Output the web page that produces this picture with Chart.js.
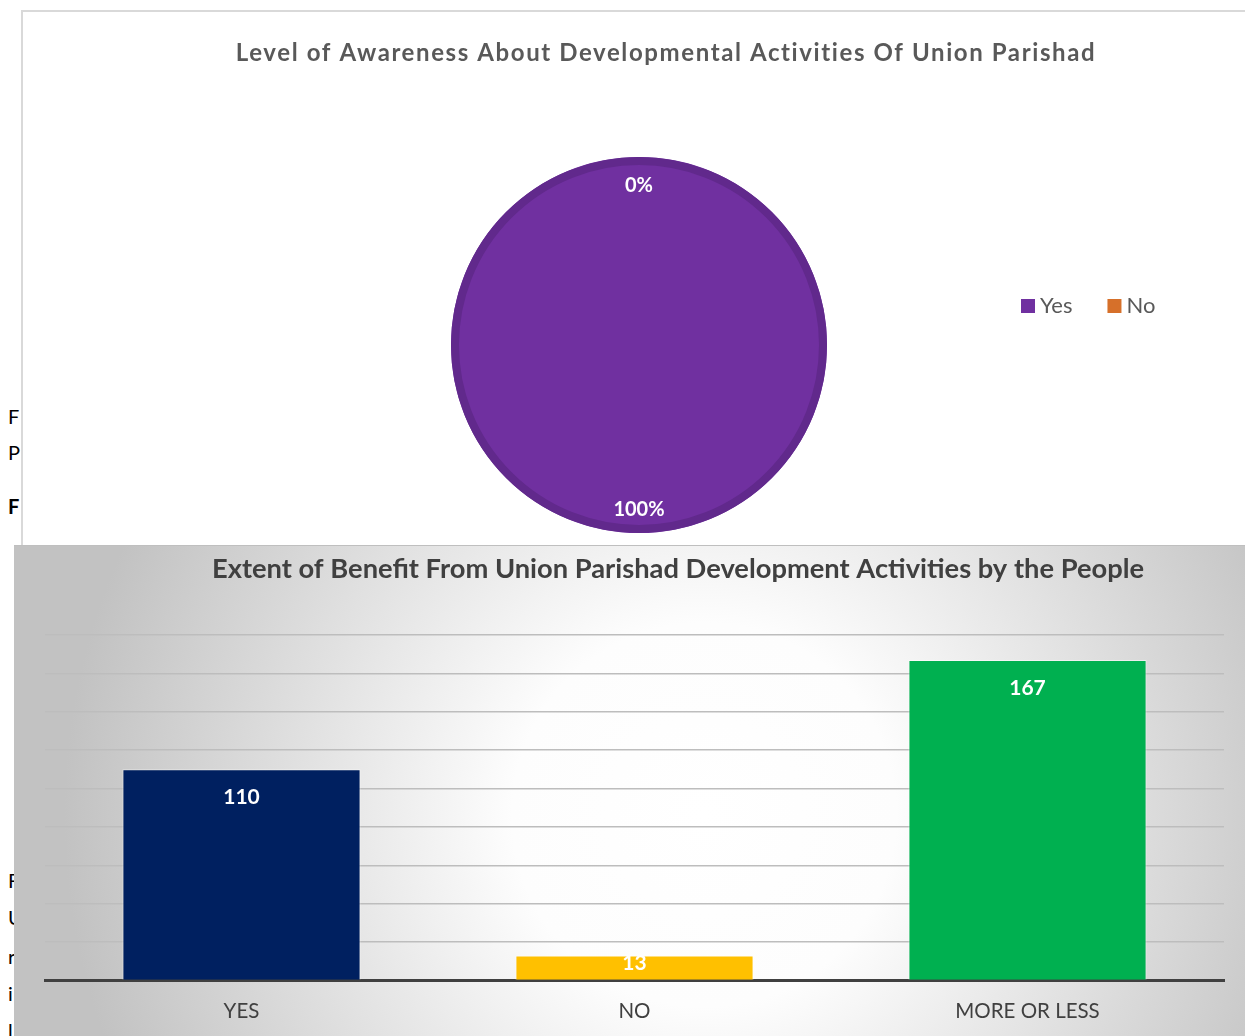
<!DOCTYPE html>
<html>
<head>
<meta charset="utf-8">
<script src="https://cdn.jsdelivr.net/npm/chart.js@4.4.1/dist/chart.umd.min.js"></script>
<style>
  html, body { margin: 0; padding: 0; width: 1245px; height: 1036px; overflow: hidden; background: #fff; }
  .doc { position: absolute; left: 8px; font: 20px Lato, sans-serif; color: #000; line-height: 22px; }
  #pieFrame { position: absolute; left: 21px; top: 10px; width: 1300px; height: 600px; border: 2px solid #d9d9d9; box-sizing: border-box; background: #fff; }
  #pieChart { position: absolute; left: 21px; top: 10px; }
  #barBox {
    position: absolute; left: 14px; top: 545px; width: 1231px; height: 511px;
    background: radial-gradient(circle 640px at 690px 270px, #ffffff 0%, #fdfdfd 30%, #c2c2c2 100%);
    box-shadow: inset 0 1px 0 #bfbfbf;
  }
  #barChart { position: absolute; left: 0; top: 0; }
</style>
</head>
<body>
<!-- bits of the document text that peek out from behind the charts -->
<div class="doc" style="top:405px">F</div>
<div class="doc" style="top:441px">P</div>
<div class="doc" style="top:495px;font-weight:bold">F</div>
<div class="doc" style="top:869px">F</div>
<div class="doc" style="top:906px">U</div>
<div class="doc" style="top:945px">r</div>
<div class="doc" style="top:982px">i</div>
<div class="doc" style="top:1019px">l</div>

<div id="pieFrame"></div>
<canvas id="pieChart" width="1236" height="535"></canvas>
<div id="barBox"><canvas id="barChart" width="1231" height="511"></canvas></div>

<script>
// awareness pie
const awarenessLabels = ['Yes', 'No'];
const awarenessCounts = [290, 0];
const awarenessColors = ['#7030a0', '#d6702a'];

// benefit bars
const benefitLabels = ['YES', 'NO', 'MORE OR LESS'];
const benefitCounts = [110, 13, 167];
const benefitColors = ['#002060', '#ffc000', '#00b050'];
const benefitAxisMax = 180;
const benefitAxisStep = 20;

// title drawn at a set spot (the Excel titles are not centred on the plot)
const placedTitle = {
  id: 'placedTitle',
  afterDraw(chart, args, opts) {
    const ctx = chart.ctx;
    ctx.save();
    ctx.font = opts.font;
    ctx.fillStyle = opts.color;
    ctx.textAlign = 'center';
    ctx.textBaseline = 'middle';
    ctx.letterSpacing = opts.spacing || '0px';
    ctx.fillText(opts.text, opts.x, opts.y);
    ctx.restore();
  }
};

// horizontal legend to the right of the pie
const sideLegend = {
  id: 'sideLegend',
  afterDraw(chart, args, opts) {
    const ctx = chart.ctx;
    const colors = chart.data.datasets[0].backgroundColor;
    let x = opts.x;
    ctx.save();
    ctx.font = '22px Lato';
    ctx.textBaseline = 'middle';
    chart.data.labels.forEach((label, i) => {
      ctx.fillStyle = colors[i];
      ctx.fillRect(x, opts.y - 7, 14, 14);
      ctx.fillStyle = '#595959';
      ctx.fillText(label, x + 19, opts.y);
      x += 19 + ctx.measureText(label).width + 35;
    });
    ctx.restore();
  }
};

// darker rim round the pie, then the percentage labels near the edge
const pieLabels = {
  id: 'pieLabels',
  afterDatasetsDraw(chart, args, opts) {
    const ctx = chart.ctx;
    const data = chart.data.datasets[0].data;
    const total = data.reduce((a, b) => a + b, 0);
    const arcs = chart.getDatasetMeta(0).data;
    const first = arcs[0].getProps(['x', 'y', 'outerRadius'], true);
    ctx.save();
    ctx.strokeStyle = opts.rimColor;
    ctx.lineWidth = opts.rimWidth;
    ctx.beginPath();
    ctx.arc(first.x, first.y, first.outerRadius - opts.rimWidth / 2, 0, Math.PI * 2);
    ctx.stroke();

    ctx.font = 'bold 20px Lato';
    ctx.fillStyle = '#fff';
    ctx.textAlign = 'center';
    ctx.textBaseline = 'middle';
    arcs.forEach((arc, i) => {
      const p = arc.getProps(['x', 'y', 'startAngle', 'endAngle', 'outerRadius'], true);
      const mid = (p.startAngle + p.endAngle) / 2;
      const r = p.outerRadius - 26;
      ctx.fillText(Math.round(data[i] / total * 100) + '%', p.x + Math.cos(mid) * r, p.y + Math.sin(mid) * r + 3);
    });
    ctx.restore();
  }
};

// value labels just inside the top of each bar
const barLabels = {
  id: 'barLabels',
  afterDatasetsDraw(chart) {
    const ctx = chart.ctx;
    const data = chart.data.datasets[0].data;
    ctx.save();
    ctx.font = 'bold 21px Lato';
    ctx.fillStyle = '#fff';
    ctx.textAlign = 'center';
    ctx.textBaseline = 'middle';
    chart.getDatasetMeta(0).data.forEach((bar, i) => {
      const p = bar.getProps(['x', 'y', 'base'], true);
      const h = p.base - p.y;
      ctx.fillText(String(data[i]), p.x, p.y + Math.min(28, h / 2 - 4));
    });
    ctx.restore();
  }
};

new Chart(document.getElementById('pieChart'), {
  type: 'pie',
  data: {
    labels: awarenessLabels,
    datasets: [{
      data: awarenessCounts,
      backgroundColor: awarenessColors,
      borderWidth: 0
    }]
  },
  options: {
    responsive: false,
    animation: false,
    layout: { padding: { top: 147, bottom: 12, left: 0, right: 0 } },
    plugins: {
      legend: { display: false },
      tooltip: { enabled: false },
      placedTitle: {
        text: 'Level of Awareness About Developmental Activities Of Union Parishad',
        x: 645, y: 43,
        font: 'bold 24px Lato', color: '#595959', spacing: '1.6px'
      },
      sideLegend: { x: 1000, y: 296 },
      pieLabels: { rimColor: '#61298c', rimWidth: 8 }
    }
  },
  plugins: [placedTitle, sideLegend, pieLabels]
});

new Chart(document.getElementById('barChart'), {
  type: 'bar',
  data: {
    labels: benefitLabels,
    datasets: [{
      data: benefitCounts,
      backgroundColor: benefitColors,
      borderColor: 'rgba(255,255,255,0.5)',
      borderWidth: 1,
      barPercentage: 0.606,
      categoryPercentage: 1
    }]
  },
  options: {
    responsive: false,
    animation: false,
    layout: { padding: { top: 90, bottom: 13, left: 31, right: 21 } },
    scales: {
      x: {
        grid: { display: false, drawTicks: false },
        border: { display: true, color: '#404040', width: 3 },
        ticks: { color: '#404040', font: { family: 'Lato', size: 20.5 }, padding: 19 }
      },
      y: {
        min: 0,
        max: benefitAxisMax,
        ticks: { display: false, stepSize: benefitAxisStep },
        grid: { color: '#bdbdbd', lineWidth: 1.5, drawTicks: false },
        border: { display: false }
      }
    },
    plugins: {
      legend: { display: false },
      tooltip: { enabled: false },
      placedTitle: {
        text: 'Extent of Benefit From Union Parishad Development Activities by the People',
        x: 664, y: 24,
        font: 'bold 27.3px Lato', color: '#404040'
      }
    }
  },
  plugins: [placedTitle, barLabels]
});
</script>
</body>
</html>
